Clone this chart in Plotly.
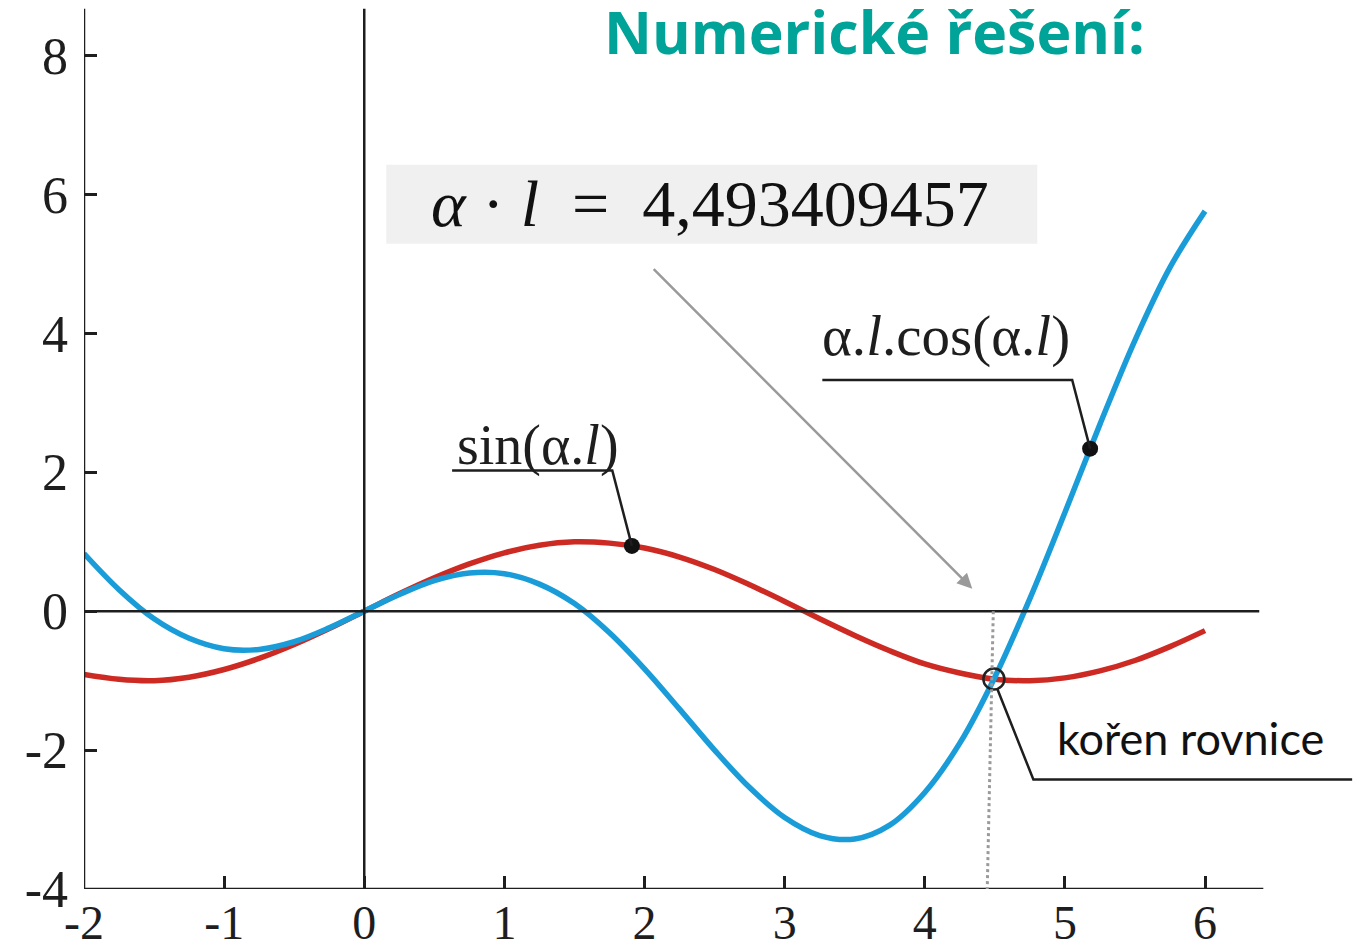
import plotly.graph_objects as go

# Sampled curves
al = [-2.0, -1.75, -1.5, -1.25, -1.0, -0.75, -0.5, -0.25, 0.0, 0.25, 0.5, 0.75, 1.0,
      1.25, 1.5, 1.75, 2.0, 2.25, 2.5, 2.75, 3.0, 3.25, 3.5, 3.75, 4.0, 4.25, 4.5,
      4.75, 5.0, 5.25, 5.5, 5.75, 6.0]
sin_vals = [-0.91, -0.98, -1.00, -0.95, -0.84, -0.68, -0.48, -0.25, 0.00, 0.25, 0.48,
            0.68, 0.84, 0.95, 1.00, 0.98, 0.91, 0.78, 0.60, 0.38, 0.14, -0.11, -0.35,
            -0.57, -0.76, -0.89, -0.98, -1.00, -0.96, -0.86, -0.71, -0.51, -0.28]
xcos_vals = [0.83, 0.31, -0.11, -0.39, -0.54, -0.55, -0.44, -0.24, 0.00, 0.24, 0.44,
             0.55, 0.54, 0.39, 0.11, -0.31, -0.83, -1.41, -2.00, -2.54, -2.97, -3.23,
             -3.28, -3.08, -2.61, -1.90, -0.95, 0.18, 1.42, 2.69, 3.90, 4.95, 5.76]

x_ticks = [-2, -1, 0, 1, 2, 3, 4, 5, 6]
y_ticks = [-4, -2, 0, 2, 4, 6, 8]

# Labelled points
sin_dot = (1.91, 0.94)
cos_dot = (5.18, 2.34)
root = (4.493409457, -0.976)

RED = "#CC2A22"
BLUE = "#1A9CD8"
INK = "#1e1e1e"
SERIF = "Liberation Serif"

X0, X1 = -2.0, 7.106
Y0, Y1 = -4.0, 8.80
Y_TOP = 8.675
X_END = 6.416

fig = go.Figure()

fig.add_trace(go.Scatter(x=al, y=sin_vals, mode="lines",
                         line=dict(color=RED, width=5.5, shape="spline", smoothing=1.0),
                         hoverinfo="skip"))
fig.add_trace(go.Scatter(x=al, y=xcos_vals, mode="lines",
                         line=dict(color=BLUE, width=5.5, shape="spline", smoothing=1.0),
                         hoverinfo="skip"))

# Label dots and the root marker
fig.add_trace(go.Scatter(x=[sin_dot[0], cos_dot[0]], y=[sin_dot[1], cos_dot[1]], mode="markers",
                         marker=dict(color="#111111", size=16), hoverinfo="skip"))
fig.add_trace(go.Scatter(x=[root[0]], y=[root[1]], mode="markers",
                         marker=dict(symbol="circle-open", color="#222222", size=21,
                                     line=dict(width=2.5)), hoverinfo="skip"))

shapes = []
ax_line = dict(color=INK, width=2.5)
# frame axes and zero lines
shapes.append(dict(type="line", xref="x", yref="y", x0=-2, x1=-2, y0=-4, y1=Y_TOP, line=ax_line))
shapes.append(dict(type="line", xref="x", yref="y", x0=-2, x1=X_END, y0=-4, y1=-4, line=ax_line))
shapes.append(dict(type="line", xref="x", yref="y", x0=0, x1=0, y0=-4, y1=Y_TOP, line=ax_line))
shapes.append(dict(type="line", xref="x", yref="y", x0=-2, x1=6.387, y0=0, y1=0, line=ax_line))
# dotted drop line at the root
shapes.append(dict(type="line", xref="x", yref="y", x0=4.489, x1=4.446, y0=0, y1=-4,
                   line=dict(color="#9a9a9a", width=3, dash="dot")))
# value box
shapes.append(dict(type="rect", xref="x", yref="y", x0=0.157, x1=4.803, y0=5.292, y1=6.429,
                   fillcolor="#F0F0F0", line=dict(width=0), layer="below"))
# leader lines
lead = dict(color=INK, width=2.5)
shapes.append(dict(type="path", xref="x", yref="y",
                   path=f"M 0.627 2.027 L 1.77 2.027 L {sin_dot[0]} {sin_dot[1]}", line=lead))
shapes.append(dict(type="path", xref="x", yref="y",
                   path=f"M 3.269 3.33 L 5.052 3.33 L {cos_dot[0]} {cos_dot[1]}", line=lead))
shapes.append(dict(type="path", xref="x", yref="y",
                   path="M 4.518 -1.12 L 4.775 -2.424 L 7.05 -2.424", line=lead))

annotations = [
    dict(x=3.64, y=8.35, xref="x", yref="y", text="<b>Numerické řešení:</b>", showarrow=False,
         font=dict(family="Open Sans", size=59, color="#00A398"), xanchor="center", yanchor="middle"),
    dict(x=2.469, y=5.868, xref="x", yref="y",
         text="<i>α</i> · <i>l</i>  =  4,493409457", showarrow=False,
         font=dict(family=SERIF, size=66, color="#111111"), xanchor="center", yanchor="middle"),
    dict(x=0.649, y=2.383, xref="x", yref="y", text="sin(α.<i>l</i>)", showarrow=False,
         font=dict(family=SERIF, size=56, color=INK), xanchor="left", yanchor="middle"),
    dict(x=3.254, y=3.967, xref="x", yref="y", text="α.<i>l</i>.cos(α.<i>l</i>)", showarrow=False,
         font=dict(family=SERIF, size=57, color=INK), xanchor="left", yanchor="middle"),
    dict(x=5.895, y=-1.821, xref="x", yref="y", text="kořen rovnice", showarrow=False,
         font=dict(family="Lato", size=45, color="#111111"), xanchor="center", yanchor="middle"),
    # gray pointer arrow
    dict(x=4.339, y=0.324, ax=2.055, ay=4.946, xref="x", yref="y", axref="x", ayref="y",
         text="", showarrow=True, arrowhead=2, arrowsize=1.2, arrowwidth=2.5,
         arrowcolor="#9a9a9a"),
]

fig.update_layout(
    width=1360, height=949,
    margin=dict(l=84, r=0, t=0, b=60, autoexpand=False),
    paper_bgcolor="white", plot_bgcolor="white",
    showlegend=False,
    shapes=shapes, annotations=annotations,
    xaxis=dict(range=[X0, X1], showgrid=False, zeroline=False, showline=False, automargin=False,
               tickvals=x_ticks, ticktext=[str(v) for v in x_ticks],
               ticks="inside", ticklen=13, tickwidth=2.5, tickcolor=INK,
               tickfont=dict(family=SERIF, size=48, color=INK), ticklabelstandoff=1),
    yaxis=dict(range=[Y0, Y1], showgrid=False, zeroline=False, showline=False, automargin=False,
               tickvals=y_ticks, ticktext=[str(v) for v in y_ticks],
               ticks="inside", ticklen=13, tickwidth=2.5, tickcolor=INK,
               tickfont=dict(family=SERIF, size=52, color=INK), ticklabelstandoff=15),
)

fig.write_html("out.html")
